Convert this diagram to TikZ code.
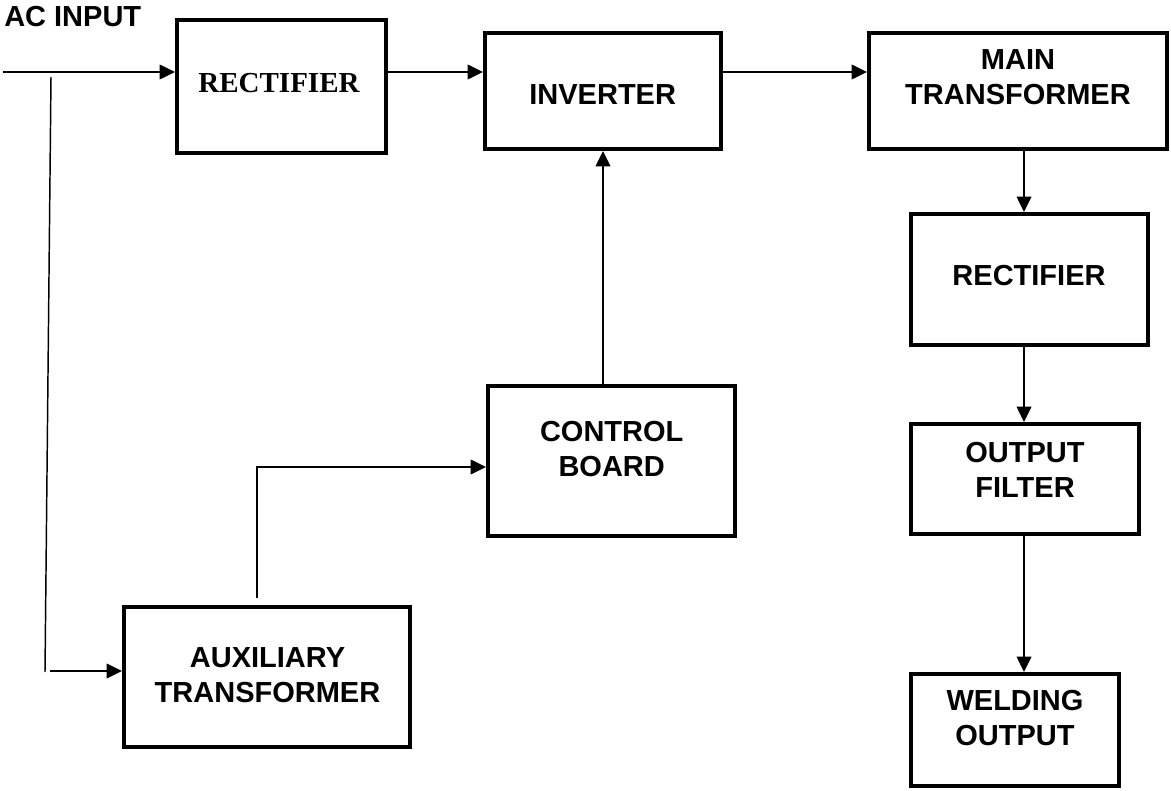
\documentclass[tikz,border=0pt]{standalone}
\usepackage{fontspec}
\setmainfont{Liberation Sans}
\newfontfamily\serifbold{Liberation Serif}
\usetikzlibrary{arrows.meta}

\tikzset{
    blk/.style={draw, line width=3pt, inner sep=0pt},
    lbl/.style={font=\fontsize{21.75}{26.25}\selectfont\bfseries, align=center, inner sep=0pt},
    wire/.style={line width=1.1pt},
    flow/.style={wire, -{Triangle[length=11.5pt,width=11pt]}},
}

\begin{document}
\begin{tikzpicture}[x=0.75pt,y=0.75pt,yscale=-1,xscale=1]
    \useasboundingbox (0,0) rectangle (1171,791);

    %Shape: Rectangle [rectifier, input side]
    \node[blk, minimum width=156.75pt, minimum height=99.75pt] (rect1) at (281.5,86.5) {};
    %Shape: Rectangle [inverter]
    \node[blk, minimum width=177pt, minimum height=87pt] (inv) at (603,91) {};
    %Shape: Rectangle [main transformer]
    \node[blk, minimum width=223.5pt, minimum height=87pt] (mainT) at (1018,91) {};
    %Shape: Rectangle [rectifier, output side]
    \node[blk, minimum width=177.75pt, minimum height=98.25pt] (rect2) at (1029.5,279.5) {};
    %Shape: Rectangle [output filter]
    \node[blk, minimum width=171pt, minimum height=82.5pt] (filt) at (1025,479) {};
    %Shape: Rectangle [welding output]
    \node[blk, minimum width=156pt, minimum height=84pt] (weld) at (1015,730) {};
    %Shape: Rectangle [control board]
    \node[blk, minimum width=185.25pt, minimum height=112.5pt] (ctrl) at (611.5,461) {};
    %Shape: Rectangle [auxiliary transformer]
    \node[blk, minimum width=214.5pt, minimum height=105pt] (aux) at (267,677) {};

    \coordinate (acin) at (3,72);
    \coordinate (spine) at (1024,0);
    \coordinate (tap top) at (51,77);
    \coordinate (tap end) at (45,672);
    \coordinate (auxin) at (50,671);
    \coordinate (auxtap) at (257,598);
    \coordinate (bend) at (257,467);

    %Straight Lines [main path]
    \draw[flow] (acin) -- (rect1.west |- acin);
    \draw[flow] (rect1.east |- acin) -- (inv.west |- acin);
    \draw[flow] (inv.east |- acin) -- (mainT.west |- acin);
    \draw[flow] (mainT.south -| spine) -- (rect2.north -| spine);
    \draw[flow] (rect2.south -| spine) -- (filt.north -| spine);
    \draw[flow] (filt.south -| spine) -- (weld.north -| spine);
    %Straight Lines [auxiliary path]
    \draw[wire] (tap top) -- (tap end);
    \draw[flow] (auxin) -- (aux.west |- auxin);
    \draw[flow] (auxtap) -- (bend) -- (ctrl.west |- bend);
    \draw[flow] (ctrl.north -| inv.south) -- (inv.south);

    % Text Node
    \node[lbl, anchor=base west] (acin txt) at (4,27) {AC INPUT};
    % Text Node
    \node[lbl, font=\fontsize{21.75}{26.25}\serifbold\bfseries] (rect1 txt) at (279,83.5) {RECTIFIER};
    % Text Node
    \node[lbl] (inv txt) at (602.7,94.7) {INVERTER};
    % Text Node
    \node[lbl] (mainT txt) at (1018,77.5) {MAIN\\TRANSFORMER};
    % Text Node
    \node[lbl] (rect2 txt) at (1029,275.5) {RECTIFIER};
    % Text Node
    \node[lbl] (filt txt) at (1025,469.7) {OUTPUT\\FILTER};
    % Text Node
    \node[lbl] (weld txt) at (1015,717.8) {WELDING\\OUTPUT};
    % Text Node
    \node[lbl] (ctrl txt) at (611.7,449) {CONTROL\\BOARD};
    % Text Node
    \node[lbl] (aux txt) at (267.5,675) {AUXILIARY\\TRANSFORMER};

\end{tikzpicture}
\end{document}
